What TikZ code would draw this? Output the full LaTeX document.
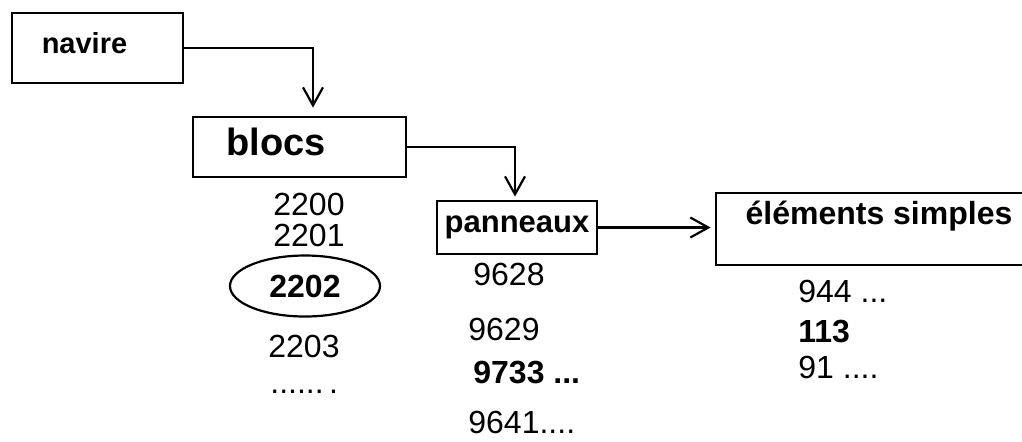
\documentclass[tikz,border=0pt]{standalone}
\usepackage{fontspec}
\setmainfont{Liberation Sans}
\usetikzlibrary{shapes,arrows.meta,calc,positioning}

\begin{document}
\begin{tikzpicture}[x=0.5pt,y=-0.5pt,
    boite/.style={draw=black, line width=1.4pt, rectangle, inner sep=0pt},
    fleche/.style={draw=black, line width=1.1pt, -{Straight Barb[length=9pt,width=10pt,line width=1.1pt]}},
    chiffre/.style={anchor=base west, inner sep=0pt, font=\fontsize{16}{19}\selectfont},
    chiffregras/.style={chiffre, font=\fontsize{16}{19}\selectfont\bfseries}]
    %cadre
    \useasboundingbox (0,0) rectangle (1022,441);
    \clip (0,0) rectangle (1022,441);
    %boites
    \node[boite, minimum width=85.5pt, minimum height=35pt, text depth=5pt,
        font=\fontsize{14.5}{17}\selectfont\bfseries] (navire) at (97.5,48) {navire\kern13pt};
    \node[boite, minimum width=106.5pt, minimum height=30pt, text depth=4.9pt,
        font=\fontsize{19}{22}\selectfont\bfseries] (blocs) at (299.5,147) {blocs\kern23.5pt};
    \node[boite, minimum width=80pt, minimum height=26.5pt,
        font=\fontsize{15.5}{18}\selectfont\bfseries] (panneaux) at (517,227.5) {panneaux};
    \node[boite, minimum width=163pt, minimum height=36pt, text depth=16pt,
        font=\fontsize{16}{19}\selectfont\bfseries] (elements) at (879,229) {éléments simples};
    %fleches
    \draw[fleche, shorten >=4pt] (navire.east) -| ([xshift=6.75pt]blocs.north);
    \draw[fleche, shorten >=1.5pt] (blocs.east) -| ([xshift=-1pt]panneaux.north);
    \draw[fleche, shorten >=2pt] (panneaux.east) -- (panneaux.east -| elements.west);
    %blocs
    \node[chiffre] (b2200) at (273,215) {2200};
    \node[chiffre] (b2201) at (273,246) {2201};
    \node[draw=black, line width=1.1pt, ellipse, inner sep=0pt, minimum width=75pt, minimum height=30.5pt,
        font=\fontsize{16}{19}\selectfont\bfseries] (b2202) at (305,286) {2202};
    \node[chiffre] (b2203) at (268,357) {2203};
    \node[chiffre] (bsuite) at (270,393) {......\,.};
    %panneaux
    \node[chiffre] (p9628) at (473,285) {9628};
    \node[chiffre] (p9629) at (468,340) {9629};
    \node[chiffregras] (p9733) at (473,383) {9733 ...};
    \node[chiffre] (p9641) at (468,433) {9641....};
    %elements simples
    \node[chiffre] (e944) at (798,302) {944 ...};
    \node[chiffregras] (e113) at (798,342) {113};
    \node[chiffre] (e91) at (798,378) {91 ....};
\end{tikzpicture}
\end{document}
